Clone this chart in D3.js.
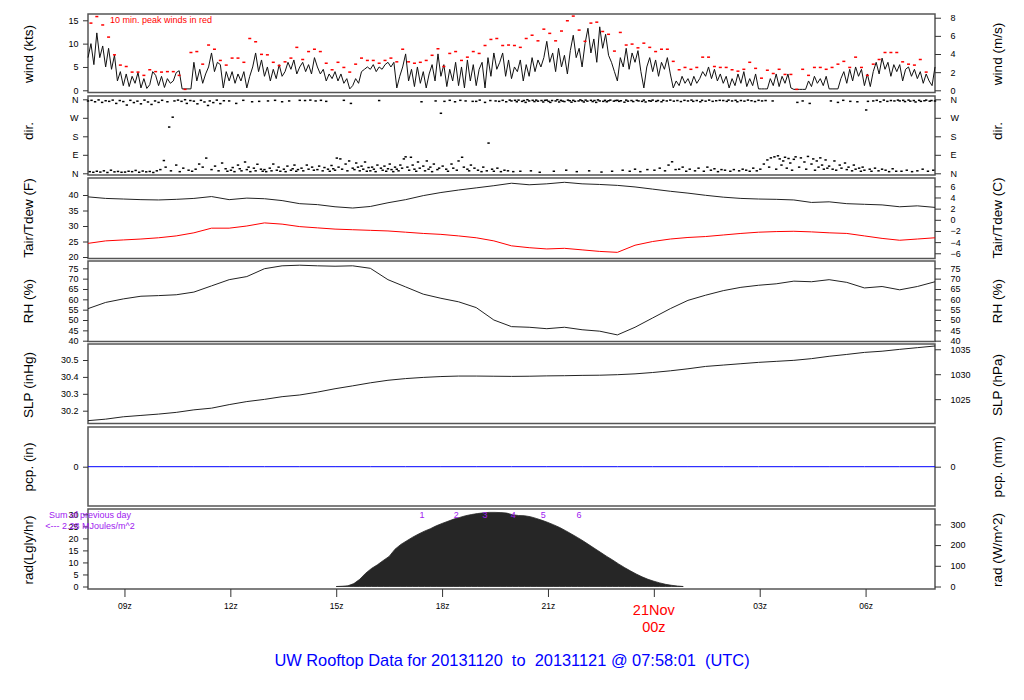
<!DOCTYPE html>
<html>
<head>
<meta charset="utf-8">
<script src="https://cdn.jsdelivr.net/npm/d3@7"></script>
<style>
	body { margin: 0; background: #fff; }
	svg { display: block; font-family: "Liberation Sans", Arial, sans-serif; }
</style>
</head>
<body>
<svg id="chart" width="1024" height="700"></svg>
<script>
(function () {

	'use strict';

	// ---- data ----
	var startTime = new Date(Date.UTC(2013, 10, 20, 7, 58, 1));
	var endTime = new Date(Date.UTC(2013, 10, 21, 7, 58, 1));

	// mean wind, knots, every 5 min (one row per hour)
	var windKts = [
		7, 10, 5.5, 12.3, 7, 9.5, 5, 9, 4.5, 7.5, 2, 4,
		1, 3.5, 0.8, 3, 1.5, 3.8, 0.5, 2.5, 0.4, 1.2, 4, 3.2,
		1, 3, 0.6, 2.5, 1.5, 2, 3.8, 4.2, 0.3, 0.3, 0.3, 0.3,
		6, 2, 4.5, 1.5, 3.5, 5, 8, 4, 6, 5.5, 0.5, 4,
		2, 4, 1.5, 3.5, 2, 4, 0.5, 3, 5, 8, 4, 6.5,
		3, 5, 2, 4.5, 2.5, 5.5, 3, 4, 6, 4.5, 6.5, 3.5,
		5, 6, 4, 5.5, 3.5, 7, 5, 3.5, 4.5, 2, 3.5, 2.5,
		4, 2, 3.5, 1.5, 2.5, 0.3, 1, 2.5, 1.5, 4, 4.5, 5,
		4.5, 5.5, 4, 5, 4.5, 5.5, 6, 5, 6, 0.5, 3, 5,
		7.8, 2, 4.5, 0.8, 5, 1.5, 4, 0.5, 3.5, 5.5, 2, 7.8,
		3, 5.5, 0.8, 4.5, 2, 6, 1, 5, 0.5, 6.5, 2, 5.5,
		1, 4.5, 6, 0.5, 7, 3, 8, 4.5, 6, 8, 3, 6.5,
		2.5, 5, 4, 6.5, 2, 5.5, 3, 7, 4, 6.5, 5, 7,
		10.5, 6, 8, 4, 9, 5, 7.5, 3.5, 8.5, 11.8, 7, 9,
		5, 10, 13.3, 8, 11, 6, 13.6, 9, 12, 7.5, 6, 4,
		2, 7, 5, 9, 4.5, 8, 6, 8.5, 4, 0.5, 5, 7,
		4, 6.5, 3, 6, 4.5, 7, 3.5, 0.5, 2, 1, 3, 1.5,
		2.5, 1, 3, 1.5, 2.5, 4, 3, 5, 2.5, 4.5, 2, 3.5,
		1.5, 3, 0.5, 2.5, 1, 3.5, 1.5, 4, 0.8, 2.5, 1, 3.5,
		0.3, 0.3, 0.3, 0.3, 2.5, 1, 3.5, 0.8, 3, 1.5, 3.5, 0.5,
		0.2, 0.2, 0.2, 0.2, 0.2, 2, 0.8, 3, 1.5, 2.5, 1, 3,
		0.3, 0.3, 0.3, 0.3, 2.5, 4, 1.5, 4.5, 2, 5, 3, 4.5,
		1, 3.5, 0.8, 4, 6, 3.5, 6.9, 4.5, 6, 3, 5.5, 4,
		5.5, 2, 4.5, 5, 3, 4.5, 2.5, 4, 1.5, 3.5, 2, 1, 5
	];

	// 10 min peak wind, knots
	var peakKts = [
		14.4, 15.8, 14, 11.4, 7.6, 5.4, 5.1, 3.9, 3.9, 3.2, 4.4, 4,
		3.9, 4, 4, 3.2, 0.2, 8.1, 8.3, 5.6, 9.7, 8.8, 6.4, 5.4,
		6.9, 6.9, 6, 11.1, 10.4, 7.7, 7.6, 6, 5.3, 6.1, 6.9, 9.2,
		6.6, 8.3, 8.8, 8.3, 5.8, 4.4, 6, 4.9, 3.9, 5.6, 6.9, 6.4,
		6.4, 5.8, 6.4, 6.9, 6.1, 8.8, 6.1, 5.8, 6, 6.4, 7.5, 8.9,
		5.1, 7.9, 8.3, 6.4, 7.1, 8.3, 7.9, 9.6, 10.9, 11.1, 9.6,
		9.7, 9.6, 9.2, 11.1, 11.8, 10.6, 13.1, 12.2, 10.6, 12.7, 14.9, 15.9,
		12.9, 10.5, 14.4, 14.6, 12.6, 12, 8.4, 12.4, 9.7, 9.9, 9.1, 10.1,
		9.2, 8.3, 8.8, 8.8, 6.2, 4.4, 4.9, 4.5, 4.9, 7.1, 7.1, 5.1,
		4.9, 4.9, 4.4, 4.1, 4.5, 6, 4.7, 2.6, 4.3, 3.6, 4.5, 3.4,
		3.4, 0.2, 4.5, 3.2, 4.9, 4.9, 4.5, 4.9, 5.6, 6.2, 4.9, 7.1,
		4.9, 3.2, 5.6, 6.6, 8.1, 8.1, 8.1, 6.1, 5.6, 5.4, 6.6, 3.9
	];

	// wind direction, degrees, every 3 min (one row per hour)
	var dirDeg = [
		352, 8, 355, 5, 348, 10, 357, 6, 345, 12, 353, 4, 350, 15, 356, 7, 340, 9, 354, 5,
		349, 6, 332, 10, 355, 8, 344, 14, 351, 5, 338, 11, 356, 7, 347, 9, 335, 4, 352, 12,
		345, 18, 355, 62, 30, 348, 225, 12, 273, 352, 40, 356, 8, 350, 25, 358, 340, 15, 354, 10,
		351, 20, 338, 45, 355, 30, 347, 74, 330, 352, 18, 344, 35, 356, 12, 339, 50, 353, 22, 10,
		352, 15, 28, 8, 340, 40, 22, 12, 355, 55, 18, 30, 8, 348, 25, 12, 44, 350, 20, 10,
		18, 8, 352, 25, 12, 45, 355, 15, 30, 10, 348, 20, 8, 35, 352, 15, 22, 40, 10, 18,
		355, 25, 12, 354, 40, 20, 356, 30, 15, 352, 18, 35, 355, 12, 28, 350, 20, 10, 38, 22,
		15, 74, 30, 70, 20, 355, 45, 12, 60, 340, 25, 18, 50, 30, 12, 35, 20, 55, 10, 28,
		12, 30, 20, 8, 40, 354, 25, 15, 35, 10, 22, 45, 18, 8, 30, 20, 12, 40, 25, 70,
		80, 30, 15, 78, 40, 20, 10, 55, 25, 348, 35, 12, 60, 20, 30, 8, 45, 352, 18, 25,
		292, 35, 350, 20, 10, 355, 45, 25, 348, 15, 60, 355, 78, 30, 352, 20, 12, 40, 350, 25,
		350, 15, 356, 8, 30, 345, 12, 147, 354, 20, 10, 352, 25, 350, 8, 355, 15, 348, 12, 356,
		352, 8, 355, 348, 356, 10, 350, 354, 345, 358, 352, 12, 355, 349, 356, 351, 5, 354, 347, 355,
		356, 350, 345, 354, 10, 352, 358, 347, 355, 351, 349, 15, 356, 353, 346, 355, 350, 8, 352, 357,
		353, 347, 356, 351, 12, 355, 349, 354, 345, 357, 352, 6, 350, 355, 348, 353, 356, 10, 351, 354,
		355, 350, 353, 15, 346, 356, 351, 10, 354, 349, 20, 355, 352, 8, 350, 356, 347, 18, 353, 351,
		356, 15, 350, 354, 25, 348, 355, 12, 352, 40, 356, 56, 351, 18, 354, 20, 349, 30, 355, 10,
		352, 20, 356, 350, 12, 354, 25, 348, 355, 10, 351, 30, 356, 15, 350, 22, 353, 8, 355, 18,
		354, 15, 350, 356, 10, 352, 18, 355, 348, 12, 354, 20, 351, 15, 356, 10, 353, 25, 349, 12,
		355, 20, 352, 45, 354, 65, 30, 75, 352, 80, 20, 85, 70, 40, 60, 78, 25, 72, 50, 15,
		68, 80, 345, 30, 75, 352, 55, 20, 82, 340, 45, 70, 15, 60, 30, 75, 40, 20, 65, 25,
		35, 352, 20, 60, 15, 345, 40, 25, 355, 50, 18, 30, 350, 12, 40, 20, 348, 25, 10, 30,
		15, 308, 350, 20, 10, 352, 25, 355, 12, 348, 20, 356, 15, 350, 8, 354, 22, 352, 10, 356,
		352, 10, 355, 349, 15, 356, 351, 8, 354, 347, 12, 355, 350, 20, 353, 356, 10, 351, 354, 15, 352
	];

	// every 30 min
	var tairF = [
		39.4, 38.9, 38.7, 38.5, 38.4, 38.6, 38.9, 39.5, 38.5, 39.0, 38.8, 38.2,
		37.2, 36.9, 36.2, 35.8, 36.3, 37.5, 38.5, 39.8, 40.8, 41.6, 42.3, 43.0,
		43.8, 43.3, 43.6, 44.1, 43.6, 43.4, 43.1, 42.6, 41.9, 41.2, 40.6, 39.9,
		39.3, 38.9, 38.7, 38.6, 38.4, 37.6, 37.8, 37.2, 37.0, 36.8, 36.2, 36.5, 36.0
	];
	var tdewF = [
		24.4, 25.2, 25.5, 25.8, 26.2, 26.8, 27.8, 29.3, 29.3, 30.0, 31.0, 30.6,
		29.8, 29.4, 29.0, 28.8, 28.6, 28.4, 28.0, 27.6, 27.3, 26.8, 26.2, 25.2,
		23.6, 23.0, 22.6, 22.8, 22.3, 21.8, 21.5, 23.8, 25.0, 25.8, 26.3, 26.6,
		27.1, 27.6, 28.0, 28.2, 28.3, 28.1, 27.8, 27.6, 26.8, 26.0, 25.4, 25.8, 26.2
	];
	var rhPct = [
		55.5, 58.5, 60.2, 61.5, 61.8, 62.2, 63.5, 66.5, 69.5, 71.0, 74.8, 76.2,
		76.5, 76.2, 76.0, 76.2, 75.0, 69.5, 66.0, 62.5, 60.5, 58.8, 56.0, 50.0,
		46.8, 46.5, 45.8, 46.5, 45.3, 44.6, 42.8, 46.5, 51.0, 55.5, 59.5, 62.0,
		64.2, 65.8, 66.8, 67.5, 68.8, 68.5, 69.5, 68.2, 65.5, 66.2, 64.6, 66.2, 68.5
	];
	var slpInHg = [
		30.141, 30.150, 30.164, 30.172, 30.180, 30.190, 30.205, 30.215, 30.236, 30.254, 30.267, 30.283,
		30.293, 30.310, 30.330, 30.347, 30.365, 30.380, 30.390, 30.397, 30.402, 30.405, 30.405, 30.404,
		30.403, 30.404, 30.406, 30.407, 30.409, 30.410, 30.413, 30.418, 30.426, 30.436, 30.448, 30.462,
		30.470, 30.478, 30.486, 30.492, 30.498, 30.508, 30.522, 30.533, 30.545, 30.552, 30.563, 30.573, 30.583
	];
	// hourly precipitation, inches
	var pcpIn = [0, 0, 0, 0, 0, 0, 0, 0, 0, 0, 0, 0, 0, 0, 0, 0, 0, 0, 0, 0, 0, 0, 0, 0, 0];

	// solar radiation, Lgly/hr, every 10 min from 15:00z
	var radStart = new Date(Date.UTC(2013, 10, 20, 15, 0, 0));
	var radLgly = [
		0, 0.1, 0.3, 1.2, 3.0, 5.5, 7.5, 9.0, 10.8, 12.5, 15.5, 17.5,
		19.0, 20.5, 21.8, 23.0, 24.0, 25.2, 26.2, 27.1, 28.0, 28.7, 29.4, 29.9,
		30.3, 30.6, 30.8, 30.8, 30.7, 30.5, 29.8, 29.5, 29.4, 29.0, 28.3, 27.5,
		26.6, 25.6, 24.5, 23.2, 21.8, 20.4, 18.9, 17.3, 15.7, 14.1, 12.5, 11.0,
		9.4, 7.9, 6.5, 5.2, 4.0, 3.0, 2.2, 1.5, 0.9, 0.5, 0.2, 0
	];
	var mjLabels = ['1', '2', '3', '4', '5', '6'];
	var mjTimes = ['2013-11-20T17:26Z', '2013-11-20T18:24Z', '2013-11-20T19:13Z',
		'2013-11-20T20:01Z', '2013-11-20T20:52Z', '2013-11-20T21:53Z'];

	var dirLabels = ['N', 'E', 'S', 'W', 'N'];

	// ---- drawing ----
	var svg = d3.select('#chart');
	var left = 88, right = 935;

	var x = d3.scaleUtc().domain([startTime, endTime]).range([left, right]);

	function timeAt(base, stepMin, i) {
		return new Date(base.getTime() + i * stepMin * 60000);
	}

	function series(values, base, stepMin, offsetMin) {
		return values.map(function (v, i) {
			return { t: timeAt(base, stepMin, i + (offsetMin || 0) / stepMin), v: v };
		});
	}

	function box(top, bottom) {
		svg.append('rect')
			.attr('x', left).attr('y', top)
			.attr('width', right - left).attr('height', bottom - top)
			.attr('fill', 'none').attr('stroke', '#555').attr('stroke-width', 1.5);
	}

	function styleAxis(g) {
		g.select('.domain').remove();
		g.attr('font-size', 9).attr('font-family', '"Liberation Sans", Arial, sans-serif')
			.attr('color', '#333');
		g.selectAll('text').attr('fill', '#000');
	}

	function leftAxis(scale, ticks, fmt) {
		var g = svg.append('g').attr('transform', 'translate(' + left + ',0)')
			.call(d3.axisLeft(scale).tickValues(ticks).tickSize(5).tickPadding(4.5)
				.tickFormat(fmt || d3.format('')));
		styleAxis(g);
	}

	function rightAxis(scale, ticks, fmt) {
		var g = svg.append('g').attr('transform', 'translate(' + right + ',0)')
			.call(d3.axisRight(scale).tickValues(ticks).tickSize(6).tickPadding(9.5)
				.tickFormat(fmt || d3.format('')));
		styleAxis(g);
	}

	function title(txt, side, midY) {
		var tx = side === 'left' ? 33 : 1002;
		svg.append('text')
			.attr('transform', 'translate(' + tx + ',' + midY + ') rotate(-90)')
			.attr('text-anchor', 'middle')
			.attr('font-size', 13.5)
			.text(txt);
	}

	function converted(scale, f) {
		return scale.copy().domain(scale.domain().map(f));
	}

	// wind
	var yWind = d3.scaleLinear().domain([0, 15]).range([90.3, 20.3]);
	box(14, 92.5);
	svg.append('path')
		.datum(series(windKts, startTime, 5))
		.attr('fill', 'none').attr('stroke', '#111').attr('stroke-width', 1)
		.attr('d', d3.line().x(function (d) { return x(d.t); }).y(function (d) { return yWind(d.v); }));
	svg.append('g').selectAll('rect')
		.data(series(peakKts, startTime, 10, 5))
		.join('rect')
		.attr('x', function (d) { return x(d.t) - 1.5; })
		.attr('y', function (d) { return yWind(d.v) - 0.75; })
		.attr('width', 3).attr('height', 1.5)
		.attr('fill', '#ff0000');
	svg.append('text').attr('x', 110).attr('y', 23).attr('font-size', 9).attr('fill', '#ff0000')
		.text('10 min. peak winds in red');
	leftAxis(yWind, [0, 5, 10, 15]);
	rightAxis(converted(yWind, function (k) { return k / 1.94384; }), [0, 2, 4, 6, 8]);
	title('wind (kts)', 'left', 54);
	title('wind (m/s)', 'right', 54);

	// direction
	var yDir = d3.scaleLinear().domain([0, 360]).range([173.3, 99.3]);
	box(96, 175);
	svg.append('g').selectAll('rect')
		.data(series(dirDeg, startTime, 3))
		.join('rect')
		.attr('x', function (d) { return x(d.t) - 1.2; })
		.attr('y', function (d) { return yDir(d.v) - 0.75; })
		.attr('width', 2.4).attr('height', 1.5)
		.attr('fill', '#000');
	var dirFmt = function (d, i) { return dirLabels[i]; };
	leftAxis(yDir, [0, 90, 180, 270, 360], dirFmt);
	rightAxis(yDir, [0, 90, 180, 270, 360], dirFmt);
	title('dir.', 'left', 131);
	title('dir.', 'right', 131);

	// temperature
	var yTemp = d3.scaleLinear().domain([20, 40]).range([257, 195]);
	box(178, 258.5);
	var tempLine = d3.line().x(function (d) { return x(d.t); }).y(function (d) { return yTemp(d.v); });
	svg.append('path').datum(series(tairF, startTime, 30))
		.attr('fill', 'none').attr('stroke', '#222').attr('stroke-width', 1).attr('d', tempLine);
	svg.append('path').datum(series(tdewF, startTime, 30))
		.attr('fill', 'none').attr('stroke', '#ff0000').attr('stroke-width', 1).attr('d', tempLine);
	leftAxis(yTemp, [20, 25, 30, 35, 40]);
	rightAxis(converted(yTemp, function (f) { return (f - 32) * 5 / 9; }), [-6, -4, -2, 0, 2, 4, 6]);
	title('Tair/Tdew (F)', 'left', 218);
	title('Tair/Tdew (C)', 'right', 218);

	// relative humidity
	var yRh = d3.scaleLinear().domain([40, 75]).range([340.7, 268.3]);
	box(261, 341.5);
	svg.append('path').datum(series(rhPct, startTime, 30))
		.attr('fill', 'none').attr('stroke', '#222').attr('stroke-width', 1)
		.attr('d', d3.line().x(function (d) { return x(d.t); }).y(function (d) { return yRh(d.v); }));
	leftAxis(yRh, [40, 45, 50, 55, 60, 65, 70, 75]);
	rightAxis(yRh, [40, 45, 50, 55, 60, 65, 70, 75]);
	title('RH (%)', 'left', 301);
	title('RH (%)', 'right', 301);

	// sea level pressure
	var ySlp = d3.scaleLinear().domain([30.2, 30.5]).range([410.7, 360]);
	box(344, 423.5);
	svg.append('path').datum(series(slpInHg, startTime, 30))
		.attr('fill', 'none').attr('stroke', '#222').attr('stroke-width', 1)
		.attr('d', d3.line().x(function (d) { return x(d.t); }).y(function (d) { return ySlp(d.v); }));
	leftAxis(ySlp, [30.2, 30.3, 30.4, 30.5], d3.format('.1f'));
	rightAxis(converted(ySlp, function (p) { return p * 33.8639; }), [1025, 1030, 1035]);
	title('SLP (inHg)', 'left', 385);
	title('SLP (hPa)', 'right', 385);

	// precipitation
	var yPcp = d3.scaleLinear().domain([-1, 1]).range([506, 427.4]);
	box(427, 506);
	svg.append('path').datum(series(pcpIn, startTime, 60))
		.attr('fill', 'none').attr('stroke', '#0000ff').attr('stroke-width', 1)
		.attr('d', d3.line().x(function (d) { return x(d.t); }).y(function (d) { return yPcp(d.v); }));
	leftAxis(yPcp, [0]);
	rightAxis(converted(yPcp, function (p) { return p * 25.4; }), [0]);
	title('pcp. (in)', 'left', 467);
	title('pcp. (mm)', 'right', 467);

	// radiation
	var yRad = d3.scaleLinear().domain([0, 30]).range([586.5, 514.3]);
	box(509, 589);
	svg.append('path').datum(series(radLgly, radStart, 10))
		.attr('fill', '#262626').attr('stroke', '#262626').attr('stroke-width', 0.8)
		.attr('d', d3.area().x(function (d) { return x(d.t); })
			.y0(yRad(0)).y1(function (d) { return yRad(d.v); }));
	leftAxis(yRad, [0, 5, 10, 15, 20, 25, 30]);
	rightAxis(converted(yRad, function (l) { return l * 11.622; }), [0, 100, 200, 300]);
	title('rad(Lgly/hr)', 'left', 550);
	title('rad (W/m^2)', 'right', 550);

	svg.append('g').selectAll('text')
		.data(mjLabels)
		.join('text')
		.attr('x', function (d, i) { return x(d3.isoParse(mjTimes[i])); })
		.attr('y', 518)
		.attr('text-anchor', 'middle')
		.attr('font-size', 9)
		.attr('fill', '#a020f0')
		.text(function (d) { return d; });

	svg.append('text').attr('x', 90).attr('y', 518).attr('text-anchor', 'middle')
		.attr('font-size', 9).attr('fill', '#a020f0').text('Sum of previous day');
	svg.append('text').attr('x', 90).attr('y', 528.5).attr('text-anchor', 'middle')
		.attr('font-size', 9).attr('fill', '#a020f0').text('<--- 2.28 MJoules/m^2');

	// time axis
	var hourTicks = d3.utcHour.every(3).range(startTime, endTime);
	var xg = svg.append('g').attr('transform', 'translate(0,589)')
		.call(d3.axisBottom(x).tickValues(hourTicks).tickSize(8)
			.tickFormat(function (d) { return d.getUTCHours() === 0 ? '' : d3.utcFormat('%Hz')(d); }));
	styleAxis(xg);
	xg.attr('font-size', 8.5);
	xg.selectAll('text').attr('y', 20).attr('dy', 0);

	hourTicks.filter(function (d) { return d.getUTCHours() === 0; }).forEach(function (d) {
		var t = svg.append('text').attr('text-anchor', 'middle').attr('font-size', 14.5)
			.attr('fill', '#ff0000');
		t.append('tspan').attr('x', x(d)).attr('y', 615).text(d3.utcFormat('%d%b')(d));
		t.append('tspan').attr('x', x(d)).attr('y', 632).text(d3.utcFormat('%Hz')(d));
	});

	svg.append('text')
		.attr('x', 512).attr('y', 666)
		.attr('text-anchor', 'middle')
		.attr('font-size', 16.4)
		.attr('fill', '#0000ff')
		.style('white-space', 'pre')
		.text('UW Rooftop Data for 20131120  to  20131121 @ 07:58:01  (UTC)');

})();
</script>
</body>
</html>
